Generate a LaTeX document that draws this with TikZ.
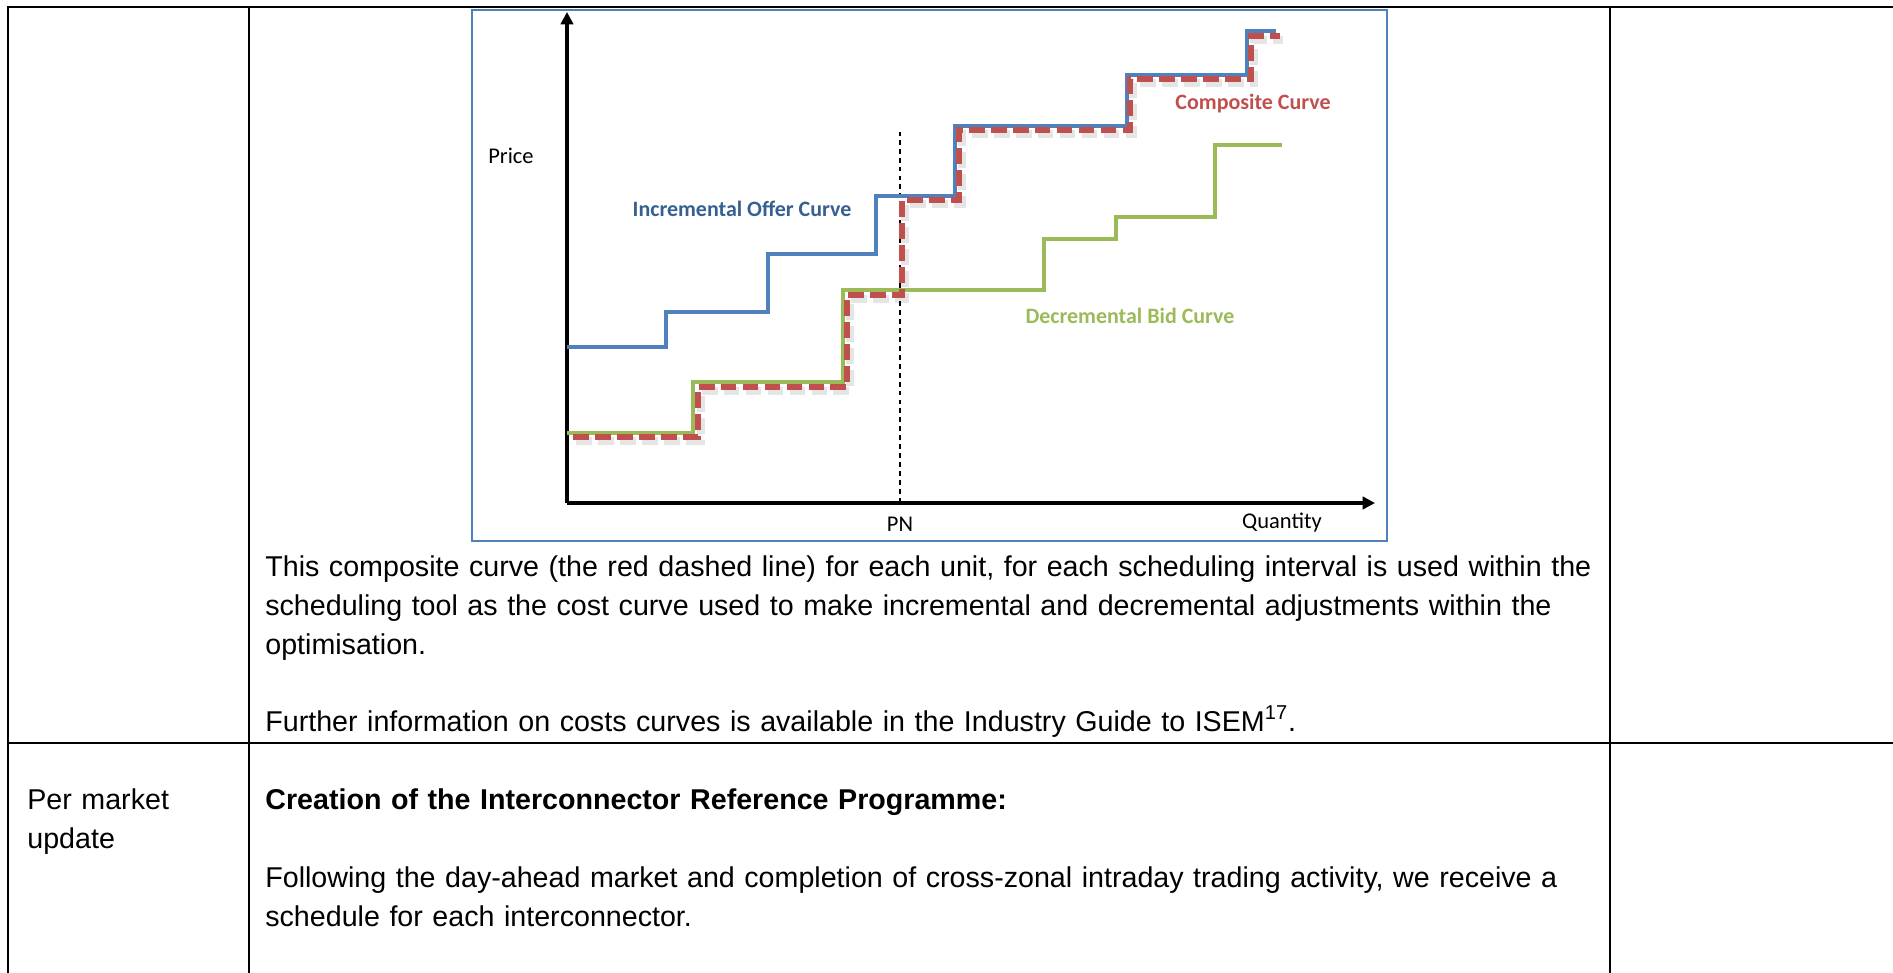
\documentclass[tikz,border=0pt]{standalone}
\usepackage{fontspec}
\setmainfont{Liberation Sans}
\newfontfamily\chartfont{Carlito}
\usepackage{tikz}
\usetikzlibrary{positioning,arrows.meta}

\definecolor{offerblue}{HTML}{4F81BD}
\definecolor{offertext}{HTML}{376092}
\definecolor{bidgreen}{HTML}{9BBB59}
\definecolor{compred}{HTML}{C0504D}

\newcommand{\compositesteps}{(573,437) -| (698,387) -| (847,295) -| (902,200) -| (959,130) -| (1130,79) -| (1251,36) -- (1280,36)}

\begin{document}
\begin{tikzpicture}[x=0.02cm,y=-0.02cm,
    rule/.style={line width=1.5pt},
    axis/.style={line width=1.9pt,-{Triangle[length=7pt,width=7pt]}},
    offer/.style={offerblue,line width=2pt},
    bid/.style={bidgreen,line width=2pt},
    composite/.style={compred,line width=3.1pt,dash pattern=on 9pt off 3.5pt},
    shade/.style={black,opacity=0.1,line width=4.5pt,dash pattern=on 9pt off 3.5pt},
    lbl/.style={font=\chartfont\fontsize{12.8}{15}\selectfont,inner sep=0pt},
    curvelbl/.style={lbl,font=\chartfont\fontsize{12.5}{15}\selectfont\bfseries},
    body/.style={font=\fontsize{16.3}{22.4}\selectfont,inner sep=0pt,anchor=base west,text width=28cm,align=left},
    heading/.style={body,font=\fontsize{16.3}{22.4}\selectfont\bfseries}]
  \useasboundingbox (0,0) rectangle (1893,973);

  % table
  \draw[rule] (8,7) -- (1893,7);
  \draw[rule] (8,743) -- (1893,743);
  \draw[rule] (8,6) -- (8,973);
  \draw[rule] (249,6) -- (249,973);
  \draw[rule] (1610,6) -- (1610,973);

  % chart
  \draw[offerblue,line width=1pt] (472,10) rectangle (1387,541);
  \coordinate (O)    at (567,503);
  \coordinate (ytop) at (567,12);
  \coordinate (xend) at (1375,503);
  \coordinate (pn)   at (900,503);
  \coordinate (pntop) at (900,132);

  \draw[axis] (O) -- (ytop);
  \draw[axis] (O) -- (xend);
  \draw[line width=0.85pt,dash pattern=on 2.8pt off 2.3pt] (pn) -- (pntop);

  \draw[offer] (567,347) -| (666,312) -| (768,254) -| (876,196) -| (955,126) -| (1127,75) -| (1247,31) -- (1276,31);
  \draw[bid] (567,433) -| (693,382) -| (843,290) -| (1044,239) -| (1116,217) -| (1215,145) -- (1282,145);
  \draw[shade,shift={(3,4)}] \compositesteps;
  \draw[composite] \compositesteps;

  \node[lbl] (price) at (511,156) {Price};
  \node[curvelbl,text=offertext] (offerlbl) at (742,209) {Incremental Offer Curve};
  \node[curvelbl,text=compred] (complbl) at (1253,104) {Composite Curve};
  \node[curvelbl,text=bidgreen] (bidlbl) at (1130,316) {Decremental Bid Curve};
  \node[lbl,below=8pt of pn] (pnlbl) {PN};
  \node[lbl] (qty) at (1282,523) {Quantity};

  % cell text
  \node[body] (para1) at (265,576) {This composite curve (the red dashed line) for each unit, for each scheduling interval is used within the\\scheduling tool as the cost curve used to make incremental and decremental adjustments within the\\optimisation.};
  \node[body] (para2) at (265,731) {Further information on costs curves is available in the Industry Guide to ISEM\textsuperscript{17}.};
  \node[body] (cadence) at (27,809) {Per market\\update};
  \node[heading] (title) at (265,809) {Creation of the Interconnector Reference Programme:};
  \node[body] (para3) at (265,887) {Following the day-ahead market and completion of cross-zonal intraday trading activity, we receive a\\schedule for each interconnector.};
\end{tikzpicture}
\end{document}
